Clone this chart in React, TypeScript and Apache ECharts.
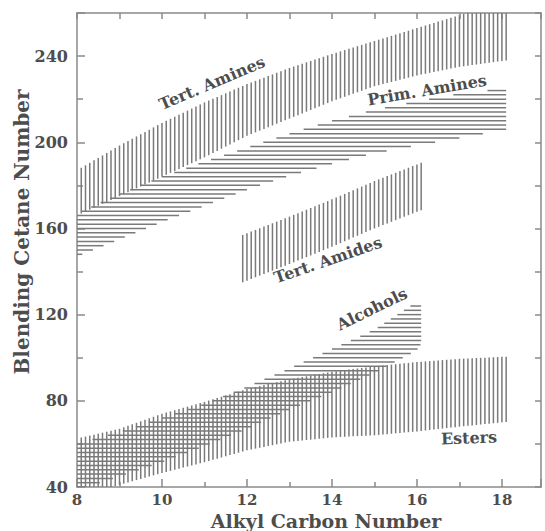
import React, { useEffect, useRef } from 'react';
import * as echarts from 'echarts';

// Band boundaries (x = alkyl carbon number, y = blending cetane number)
const tertAminesX = [8, 9, 10, 11, 12, 13, 14, 15, 16, 17, 18.1];
const tertAminesLow = [166, 175, 184, 193, 203, 211, 219, 226, 231, 235, 238];
const tertAminesHigh = [187, 198.5, 209, 218.5, 227, 234.5, 241, 247, 253, 259, 265];

const primAminesX = [8, 9, 10, 11, 12, 13, 14, 15, 16, 17, 18.1];
const primAminesLow = [147, 155, 163, 170.5, 178, 184.5, 190, 195, 198.5, 202, 206];
const primAminesHigh = [167, 176, 184, 191, 197.5, 204, 210, 215, 219, 222.5, 225];

const tertAmidesX = [11.9, 13, 14, 15, 16.1];
const tertAmidesLow = [135, 143.5, 151.5, 160, 168.5];
const tertAmidesHigh = [157, 165.5, 173.5, 182, 190.5];

const alcoholsX = [8, 9, 10, 11, 12, 13, 14, 15, 16, 16.1];
const alcoholsLow = [38.5, 45, 51.6, 59, 67, 76, 84, 93, 103.5, 106.5];
const alcoholsHigh = [60, 65.5, 72, 78.5, 86.5, 95, 104, 113, 126, 127];

const estersX = [8, 9, 10, 11, 12, 13, 14, 15, 16, 17, 18.1];
const estersLow = [35.5, 41, 46.5, 51.5, 57, 61, 63, 64, 65.8, 68, 70.2];
const estersHigh = [62.5, 67, 74, 79.5, 85.5, 90, 93.5, 96, 98, 99.5, 100.5];

const xTickLabels = ['8', '10', '12', '14', '16', '18'];
const yTickLabels = ['40', '80', '120', '160', '200', '240'];

const bandLabels = [
  { text: 'Tert. Amines', x: 212, y: 83, rot: 23 },
  { text: 'Prim. Amines', x: 427, y: 90, rot: 9.5 },
  { text: 'Tert. Amides', x: 328, y: 260, rot: 19 },
  { text: 'Alcohols', x: 372, y: 309, rot: 26 },
  { text: 'Esters', x: 469, y: 438, rot: 2 },
];

const FONT = '"DejaVu Serif", serif';
const TEXT = '#4d4d4d';
const HATCH = '#7a7a7a';
const AXIS = '#8a8a8a';

function interp(xs: number[], ys: number[], x: number): number {
  if (x <= xs[0]) return ys[0];
  for (let i = 1; i < xs.length; i++) {
    if (x <= xs[i]) {
      const t = (x - xs[i - 1]) / (xs[i] - xs[i - 1]);
      return ys[i - 1] + t * (ys[i] - ys[i - 1]);
    }
  }
  return ys[ys.length - 1];
}

function inverse(xs: number[], ys: number[], y: number): number {
  if (y <= ys[0]) return xs[0];
  for (let i = 1; i < ys.length; i++) {
    if (y <= ys[i]) {
      const t = (y - ys[i - 1]) / (ys[i] - ys[i - 1]);
      return xs[i - 1] + t * (xs[i] - xs[i - 1]);
    }
  }
  return xs[xs.length - 1];
}

function verticalHatch(xs: number[], low: number[], high: number[], x0: number, x1: number) {
  const out: number[][] = [];
  const n = Math.round((x1 - x0) / 0.1);
  for (let i = 0; i <= n; i++) {
    const x = x0 + i * 0.1;
    out.push([x, interp(xs, low, x), interp(xs, high, x)]);
  }
  return out;
}

function horizontalHatch(xs: number[], low: number[], high: number[], y0: number, y1: number) {
  const out: number[][] = [];
  for (let y = y0; y <= y1; y += 2) {
    const xs0 = y <= high[0] ? xs[0] : inverse(xs, high, y);
    const xs1 = y >= low[low.length - 1] ? xs[xs.length - 1] : inverse(xs, low, y);
    if (xs1 > xs0) out.push([xs0, xs1, y]);
  }
  return out;
}

function vSeries(data: number[][]) {
  return {
    type: 'custom',
    clip: true,
    silent: true,
    data,
    encode: { x: 0, y: [1, 2] },
    renderItem: (_p: any, api: any) => {
      const a = api.coord([api.value(0), api.value(1)]);
      const b = api.coord([api.value(0), api.value(2)]);
      return {
        type: 'line',
        shape: { x1: a[0], y1: a[1], x2: b[0], y2: b[1] },
        style: { stroke: HATCH, lineWidth: 1.5 },
      };
    },
  };
}

function hSeries(data: number[][]) {
  return {
    type: 'custom',
    clip: true,
    silent: true,
    data,
    encode: { x: [0, 1], y: 2 },
    renderItem: (_p: any, api: any) => {
      const a = api.coord([api.value(0), api.value(2)]);
      const b = api.coord([api.value(1), api.value(2)]);
      return {
        type: 'line',
        shape: { x1: a[0], y1: a[1], x2: b[0], y2: b[1] },
        style: { stroke: HATCH, lineWidth: 1.5 },
      };
    },
  };
}

export default function App() {
  const ref = useRef<HTMLDivElement>(null);
  useEffect(() => {
    if (!ref.current) return;
    const chart = echarts.init(ref.current, null, { renderer: 'svg' });
    const axisLine = { lineStyle: { color: AXIS, width: 1.5 } };
    const labelStyle = { color: TEXT, fontFamily: FONT, fontWeight: 'bold', fontSize: 16 };
    chart.setOption({
      animation: false,
      grid: { left: 77, right: 4, top: 13, bottom: 44, containLabel: false },
      xAxis: [
        {
          type: 'value', min: 8, max: 18.92, interval: 2,
          axisLine: { show: true, ...axisLine },
          axisTick: { show: true, inside: true, length: 8, lineStyle: { color: AXIS, width: 1.5 } },
          minorTick: { show: true, splitNumber: 2, length: 5, lineStyle: { color: AXIS, width: 1.5 } },
          splitLine: { show: false },
          axisLabel: {
            ...labelStyle, fontSize: 15, margin: 5, showMaxLabel: false,
            formatter: (v: number) => (xTickLabels.includes(String(v)) ? String(v) : ''),
          },
        },
        {
          type: 'value', min: 8, max: 18.92, interval: 1, position: 'top',
          axisLine: { show: true, ...axisLine },
          axisTick: { show: true, inside: true, length: 6, lineStyle: { color: AXIS, width: 1.5 } },
          splitLine: { show: false },
          axisLabel: { show: false },
        },
      ],
      yAxis: [
        {
          type: 'value', min: 40, max: 260, interval: 40,
          axisLine: { show: true, ...axisLine },
          axisTick: { show: true, inside: true, length: 8, lineStyle: { color: AXIS, width: 1.5 } },
          minorTick: { show: true, splitNumber: 2, length: 6, lineStyle: { color: AXIS, width: 1.5 } },
          splitLine: { show: false },
          axisLabel: {
            ...labelStyle, margin: 9, showMaxLabel: false,
            formatter: (v: number) => (yTickLabels.includes(String(v)) ? String(v) : ''),
          },
        },
        {
          type: 'value', min: 40, max: 260, interval: 20, position: 'right',
          axisLine: { show: true, ...axisLine },
          axisTick: { show: true, inside: true, length: 6, lineStyle: { color: AXIS, width: 1.5 } },
          splitLine: { show: false },
          axisLabel: { show: false },
        },
      ],
      series: [
        vSeries(verticalHatch(tertAminesX, tertAminesLow, tertAminesHigh, 8.1, 18.1)),
        hSeries(horizontalHatch(primAminesX, primAminesLow, primAminesHigh, 148, 224)),
        vSeries(verticalHatch(tertAmidesX, tertAmidesLow, tertAmidesHigh, 11.9, 16.1)),
        hSeries(horizontalHatch(alcoholsX, alcoholsLow, alcoholsHigh, 40, 124)),
        vSeries(verticalHatch(estersX, estersLow, estersHigh, 8.1, 18.1)),
      ],
      graphic: [
        ...bandLabels.map((l) => ({
          type: 'text', x: l.x, y: l.y, rotation: (l.rot * Math.PI) / 180, z: 10,
          style: { text: l.text, fill: TEXT, font: `bold 16px ${FONT}`, align: 'center', verticalAlign: 'middle' },
        })),
        {
          type: 'text', x: 326, y: 530, z: 10,
          style: { text: 'Alkyl Carbon Number', fill: TEXT, font: `bold 19px ${FONT}`, align: 'center', verticalAlign: 'bottom' },
        },
        {
          type: 'text', x: 22, y: 232, rotation: Math.PI / 2, z: 10,
          style: { text: 'Blending Cetane Number', fill: TEXT, font: `bold 20px ${FONT}`, align: 'center', verticalAlign: 'middle' },
        },
      ],
    });
    return () => chart.dispose();
  }, []);
  return <div ref={ref} style={{ width: 545, height: 531, position: 'absolute', left: 0, top: 0 }} />;
}
